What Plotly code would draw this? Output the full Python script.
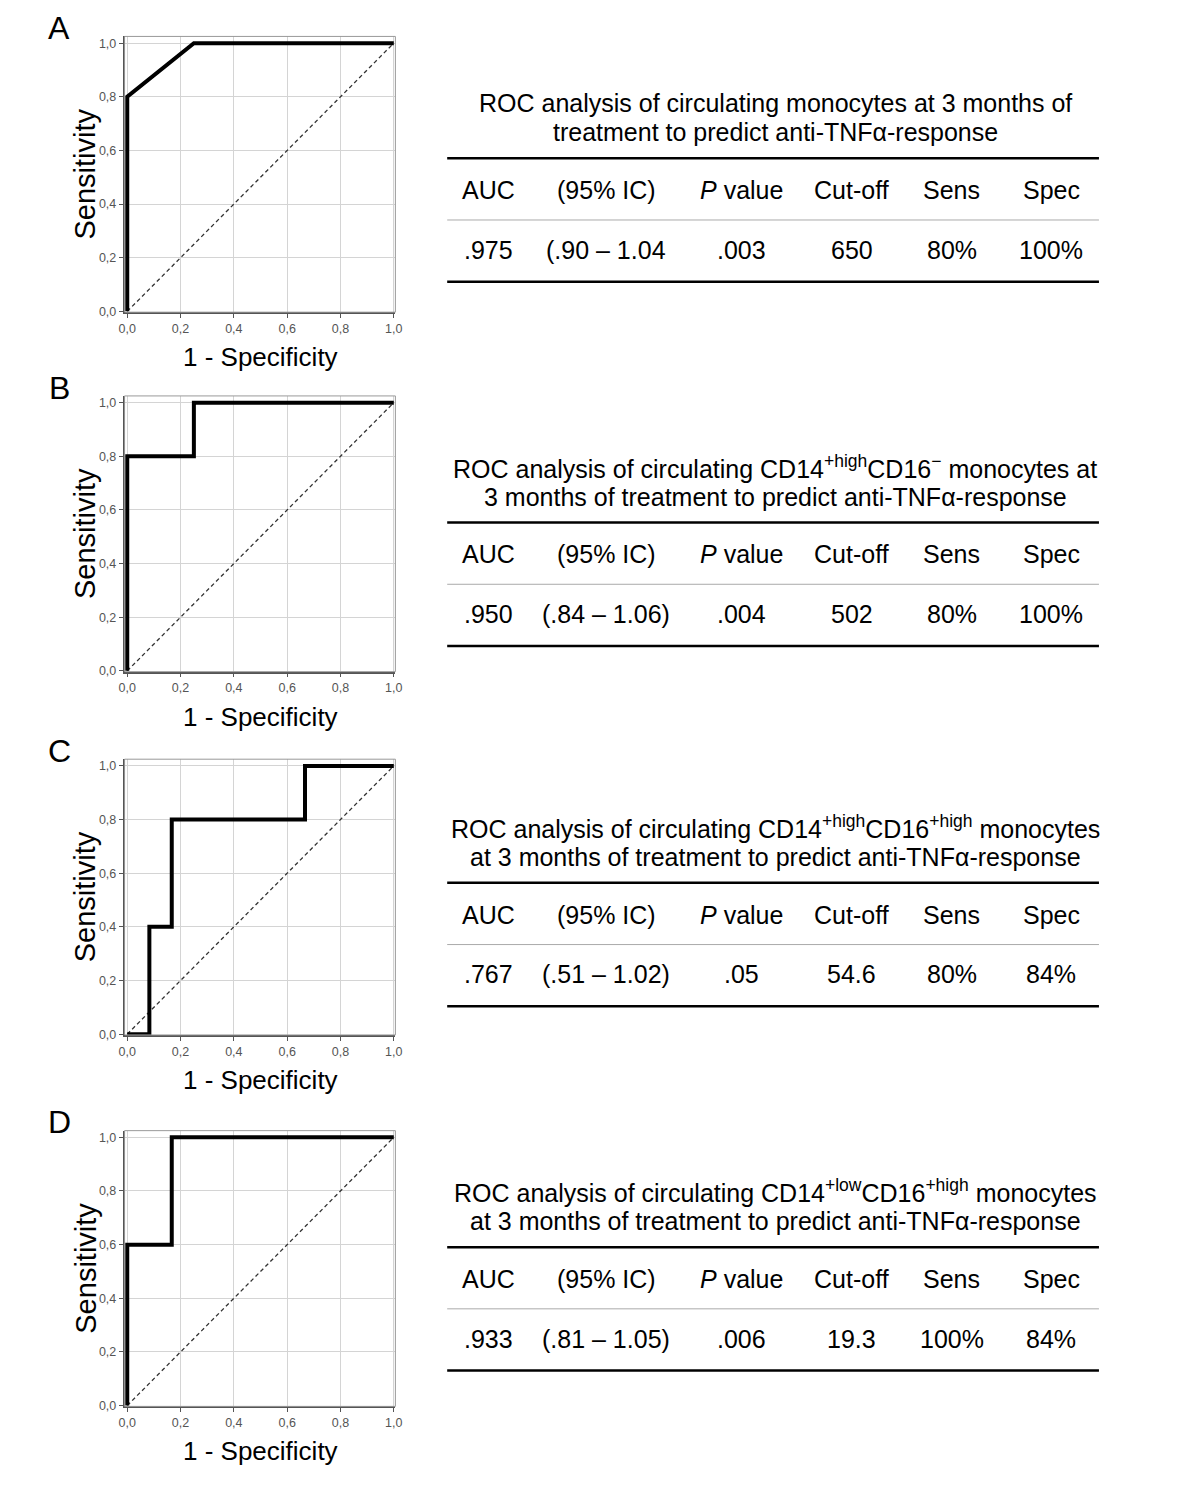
import plotly.graph_objects as go

# ---------------- data ----------------
panel_letters = ["A", "B", "C", "D"]

roc_x = [
    [0.0, 0.0, 0.25, 1.0],
    [0.0, 0.0, 0.25, 0.25, 1.0],
    [0.0, 0.083, 0.083, 0.167, 0.167, 0.667, 0.667, 1.0],
    [0.0, 0.0, 0.167, 0.167, 1.0],
]
roc_y = [
    [0.0, 0.8, 1.0, 1.0],
    [0.0, 0.8, 0.8, 1.0, 1.0],
    [0.0, 0.0, 0.4, 0.4, 0.8, 0.8, 1.0, 1.0],
    [0.0, 0.6, 0.6, 1.0, 1.0],
]
ref_line = [0.0, 1.0]

tick_vals = [0.0, 0.2, 0.4, 0.6, 0.8, 1.0]
tick_text = ["0,0", "0,2", "0,4", "0,6", "0,8", "1,0"]

title_line1 = [
    "ROC analysis of circulating monocytes at 3 months of",
    "ROC analysis of circulating CD14<sup>+high</sup>CD16<sup>−</sup> monocytes at",
    "ROC analysis of circulating CD14<sup>+high</sup>CD16<sup>+high</sup> monocytes",
    "ROC analysis of circulating CD14<sup>+low</sup>CD16<sup>+high</sup> monocytes",
]
title_line2 = [
    "treatment to predict anti-TNFα-response",
    "3 months of treatment to predict anti-TNFα-response",
    "at 3 months of treatment to predict anti-TNFα-response",
    "at 3 months of treatment to predict anti-TNFα-response",
]
table_header = ["AUC", "(95% IC)", "<i>P</i> value", "Cut-off", "Sens", "Spec"]
auc = [".975", ".950", ".767", ".933"]
ci = ["(.90 – 1.04", "(.84 – 1.06)", "(.51 – 1.02)", "(.81 – 1.05)"]
pval = [".003", ".004", ".05", ".006"]
cutoff = ["650", "502", "54.6", "19.3"]
sens = ["80%", "80%", "80%", "100%"]
spec = ["100%", "100%", "84%", "84%"]

# ---------------- layout geometry (pixels, page coordinates) ----------------
OFF = 8                    # default body margin of the html page
W, H = 1200 - 2 * OFF, 1500 - 2 * OFF
FONT = "Liberation Sans, Arial, sans-serif"
y_one_px = [43.3, 404.5, 769.5, 1142.7]   # page pixel of sensitivity = 1.0
unit = 269.5
x0_px = 122.5
xr = [-0.01, 1.006]
yr = [-0.003, 1.025]
table_dy = [0, 366, 728, 1094]
col_x = [488, 607, 744, 855, 956, 1057]
tbl_left, tbl_right = 446, 1105
TFS = 25


def px(x):
    return (x - OFF) / W


def py(y):
    return 1 - (y - OFF) / H


fig = go.Figure()
annotations = []
shapes = []

for i in range(4):
    n = "" if i == 0 else str(i + 1)
    xa, ya = "x" + n, "y" + n
    y0_px = y_one_px[i] + unit
    left = x0_px + xr[0] * unit
    right = x0_px + xr[1] * unit
    top = y0_px - yr[1] * unit
    bottom = y0_px - yr[0] * unit

    fig.add_trace(go.Scatter(x=ref_line, y=ref_line, mode="lines", xaxis=xa, yaxis=ya,
                             line=dict(color="#333333", width=1.3, dash="4px,3px"),
                             showlegend=False, hoverinfo="skip"))
    fig.add_trace(go.Scatter(x=roc_x[i], y=roc_y[i], mode="lines", xaxis=xa, yaxis=ya,
                             line=dict(color="black", width=4), showlegend=False,
                             hoverinfo="skip"))

    axis_common = dict(
        tickvals=tick_vals, ticktext=tick_text, showgrid=True,
        gridcolor="#d4d4d4", gridwidth=1, zeroline=False, showline=True,
        linecolor="#555555", linewidth=1.5, mirror=False, ticks="outside",
        ticklen=4, tickcolor="#555555",
        tickfont=dict(family=FONT, size=12.5, color="#555555"),
        fixedrange=True,
    )
    fig.layout["xaxis" + n] = dict(axis_common, range=xr, domain=[px(left), px(right)],
                                   anchor=ya)
    fig.layout["yaxis" + n] = dict(axis_common, range=yr, domain=[py(bottom), py(top)],
                                   anchor=xa)

    # light frame (top/right)
    shapes.append(dict(type="rect", xref=xa + " domain", yref=ya + " domain",
                       x0=0, x1=1, y0=0, y1=1, line=dict(color="#999999", width=1),
                       layer="above"))

    # axis titles
    annotations.append(dict(text="Sensitivity", x=px(80), y=py((top + bottom) / 2),
                            xref="paper", yref="paper", textangle=-90, showarrow=False,
                            font=dict(family=FONT, size=29, color="black"),
                            xanchor="center", yanchor="middle"))
    annotations.append(dict(text="1 - Specificity", x=px((x0_px + x0_px + unit) / 2),
                            y=py(y0_px + 46), xref="paper", yref="paper", showarrow=False,
                            font=dict(family=FONT, size=26, color="black"),
                            xanchor="center", yanchor="middle"))
    # panel letter
    annotations.append(dict(text=panel_letters[i], x=px(54), y=py(y_one_px[i] - 15),
                            xref="paper", yref="paper", showarrow=False,
                            font=dict(family=FONT, size=32, color="black"),
                            xanchor="center", yanchor="middle"))

    # table
    dy = table_dy[i]
    tcx = (tbl_left + tbl_right) / 2 + 2
    for t, yy in ((title_line1[i], 103), (title_line2[i], 133)):
        annotations.append(dict(text=t, x=px(tcx), y=py(yy + dy), xref="paper",
                                yref="paper", showarrow=False,
                                font=dict(family=FONT, size=TFS, color="black"),
                                xanchor="center", yanchor="middle"))
    row_vals = [auc[i], ci[i], pval[i], cutoff[i], sens[i], spec[i]]
    for j in range(6):
        annotations.append(dict(text=table_header[j], x=px(col_x[j]), y=py(191 + dy),
                                xref="paper", yref="paper", showarrow=False,
                                font=dict(family=FONT, size=TFS, color="black"),
                                xanchor="center", yanchor="middle"))
        annotations.append(dict(text=row_vals[j], x=px(col_x[j]), y=py(251 + dy),
                                xref="paper", yref="paper", showarrow=False,
                                font=dict(family=FONT, size=TFS, color="black"),
                                xanchor="center", yanchor="middle"))
    for yy, w, c in ((159, 2.5, "black"), (221, 1, "#aaaaaa"), (283, 2.5, "black")):
        shapes.append(dict(type="line", xref="paper", yref="paper",
                           x0=px(tbl_left), x1=px(tbl_right), y0=py(yy + dy), y1=py(yy + dy),
                           line=dict(color=c, width=w)))

fig.update_layout(width=W, height=H, margin=dict(l=0, r=0, t=0, b=0),
                  paper_bgcolor="white", plot_bgcolor="white",
                  annotations=annotations, shapes=shapes, showlegend=False)

fig.write_html("out.html")
